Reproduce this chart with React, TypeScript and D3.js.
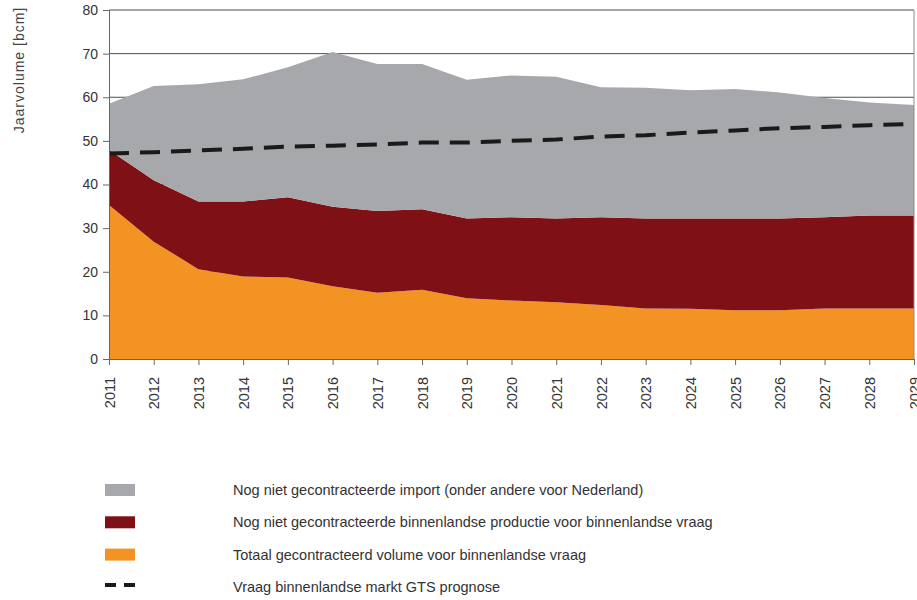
import { useEffect, useRef } from 'react';
import * as d3 from 'd3';

const years = [2011, 2012, 2013, 2014, 2015, 2016, 2017, 2018, 2019, 2020, 2021, 2022, 2023, 2024, 2025, 2026, 2027, 2028, 2029];
// totaal gecontracteerd volume (oranje)
const contracted = [35.3, 26.9, 20.6, 18.9, 18.7, 16.7, 15.2, 15.9, 13.9, 13.4, 13.0, 12.4, 11.6, 11.5, 11.2, 11.2, 11.6, 11.6, 11.6];
// nog niet gecontracteerde binnenlandse productie (rood)
const domestic = [12.6, 14.1, 15.5, 17.2, 18.4, 18.2, 18.7, 18.4, 18.3, 19.1, 19.2, 20.1, 20.6, 20.7, 21.0, 21.0, 20.9, 21.3, 21.3];
// nog niet gecontracteerde import (grijs)
const imports = [10.6, 21.6, 26.9, 28.0, 29.8, 35.5, 33.7, 33.3, 31.8, 32.5, 32.5, 29.8, 30.0, 29.4, 29.7, 28.9, 27.3, 25.9, 25.3];
// vraag GTS prognose (stippellijn)
const demand = [47.1, 47.4, 47.8, 48.2, 48.7, 48.9, 49.2, 49.6, 49.6, 50.0, 50.3, 51.0, 51.3, 51.9, 52.4, 52.9, 53.2, 53.6, 53.9];
const yTicks = [0, 10, 20, 30, 40, 50, 60, 70, 80];

const legendItems = [
  { label: 'Nog niet gecontracteerde import (onder andere voor Nederland)', color: '#a7a8ab', type: 'area' },
  { label: 'Nog niet gecontracteerde binnenlandse productie voor binnenlandse vraag', color: '#7f1016', type: 'area' },
  { label: 'Totaal gecontracteerd volume voor binnenlandse vraag', color: '#f39323', type: 'area' },
  { label: 'Vraag binnenlandse markt GTS prognose', color: '#1a1a1a', type: 'line' },
];

const App = () => {
  const svgRef = useRef<SVGSVGElement>(null);

  useEffect(() => {
    const svg = d3.select(svgRef.current);
    svg.selectAll('*').remove();

    const left = 109, right = 914, top = 10, bottom = 359;
    const font = '"Liberation Sans", Arial, sans-serif';

    const x = d3.scaleLinear().domain([2011, 2029]).range([left, right]);
    const y = d3.scaleLinear().domain([0, 80]).range([bottom, top]);

    const rows = years.map((yr, i) => ({ year: yr, contracted: contracted[i], domestic: domestic[i], imports: imports[i] }));
    const stacked = d3.stack<any>().keys(['contracted', 'domestic', 'imports'])(rows);
    const colors = ['#f39323', '#7f1016', '#a7a8ab'];

    // gridlines
    svg.append('g')
      .selectAll('line')
      .data(yTicks.slice(1))
      .enter().append('line')
      .attr('x1', left).attr('x2', right)
      .attr('y1', d => y(d)).attr('y2', d => y(d))
      .attr('stroke', '#4d4d4d').attr('stroke-width', 1);

    const area = d3.area<any>()
      .x(d => x(d.data.year))
      .y0(d => y(d[0]))
      .y1(d => y(d[1]));

    svg.append('g')
      .selectAll('path')
      .data(stacked)
      .enter().append('path')
      .attr('d', area)
      .attr('fill', (d, i) => colors[i]);

    // frame right side
    svg.append('line')
      .attr('x1', right).attr('x2', right).attr('y1', top).attr('y2', bottom)
      .attr('stroke', '#8c8c8c').attr('stroke-width', 1);

    const line = d3.line<number>()
      .x((d, i) => x(years[i]))
      .y(d => y(d));

    svg.append('path')
      .datum(demand)
      .attr('d', line)
      .attr('fill', 'none')
      .attr('stroke', '#1a1a1a')
      .attr('stroke-width', 4)
      .attr('stroke-dasharray', '20,11');

    // y axis
    const yAxis = svg.append('g')
      .attr('transform', `translate(${left},0)`)
      .call(d3.axisLeft(y).tickValues(yTicks).tickSize(6).tickPadding(5).tickFormat(d3.format('d')));
    yAxis.select('.domain').attr('stroke', '#666');
    yAxis.selectAll('.tick line').attr('stroke', '#666');
    yAxis.selectAll('text').attr('fill', '#333').style('font-family', font).style('font-size', '14px');

    // x axis
    const xAxis = svg.append('g')
      .attr('transform', `translate(0,${bottom})`)
      .call(d3.axisBottom(x).tickValues(years).tickSize(6).tickFormat(d3.format('d')));
    xAxis.select('.domain').attr('stroke', '#666');
    xAxis.selectAll('.tick line').attr('stroke', '#666');
    xAxis.selectAll('text')
      .attr('fill', '#333')
      .style('font-family', font).style('font-size', '14.5px')
      .attr('transform', 'rotate(-90)')
      .attr('text-anchor', 'end')
      .attr('x', -18).attr('y', 0).attr('dy', '0.35em');

    svg.append('text')
      .attr('transform', 'translate(19,70) rotate(-90)')
      .attr('text-anchor', 'middle')
      .attr('dy', '0.35em')
      .attr('fill', '#444')
      .style('font-family', font).style('font-size', '14px')
      .style('letter-spacing', '1px')
      .text('Jaarvolume [bcm]');

    // legend
    const legend = svg.append('g');
    legendItems.forEach((item, i) => {
      const ly = 490 + i * 32.3;
      if (item.type === 'area') {
        legend.append('rect').attr('x', 105).attr('y', ly - 6).attr('width', 30).attr('height', 12).attr('fill', item.color);
      } else {
        legend.append('line').attr('x1', 105).attr('x2', 135).attr('y1', ly - 2).attr('y2', ly - 2)
          .attr('stroke', item.color).attr('stroke-width', 4).attr('stroke-dasharray', '11,8');
      }
      legend.append('text')
        .attr('x', 233).attr('y', ly).attr('dy', '0.35em')
        .attr('fill', '#333')
        .style('font-family', font).style('font-size', '14.5px')
        .text(item.label);
    });
  }, []);

  return <svg ref={svgRef} width={917} height={600} style={{ position: 'absolute', left: 0, top: 0 }}></svg>;
};

export default App;
